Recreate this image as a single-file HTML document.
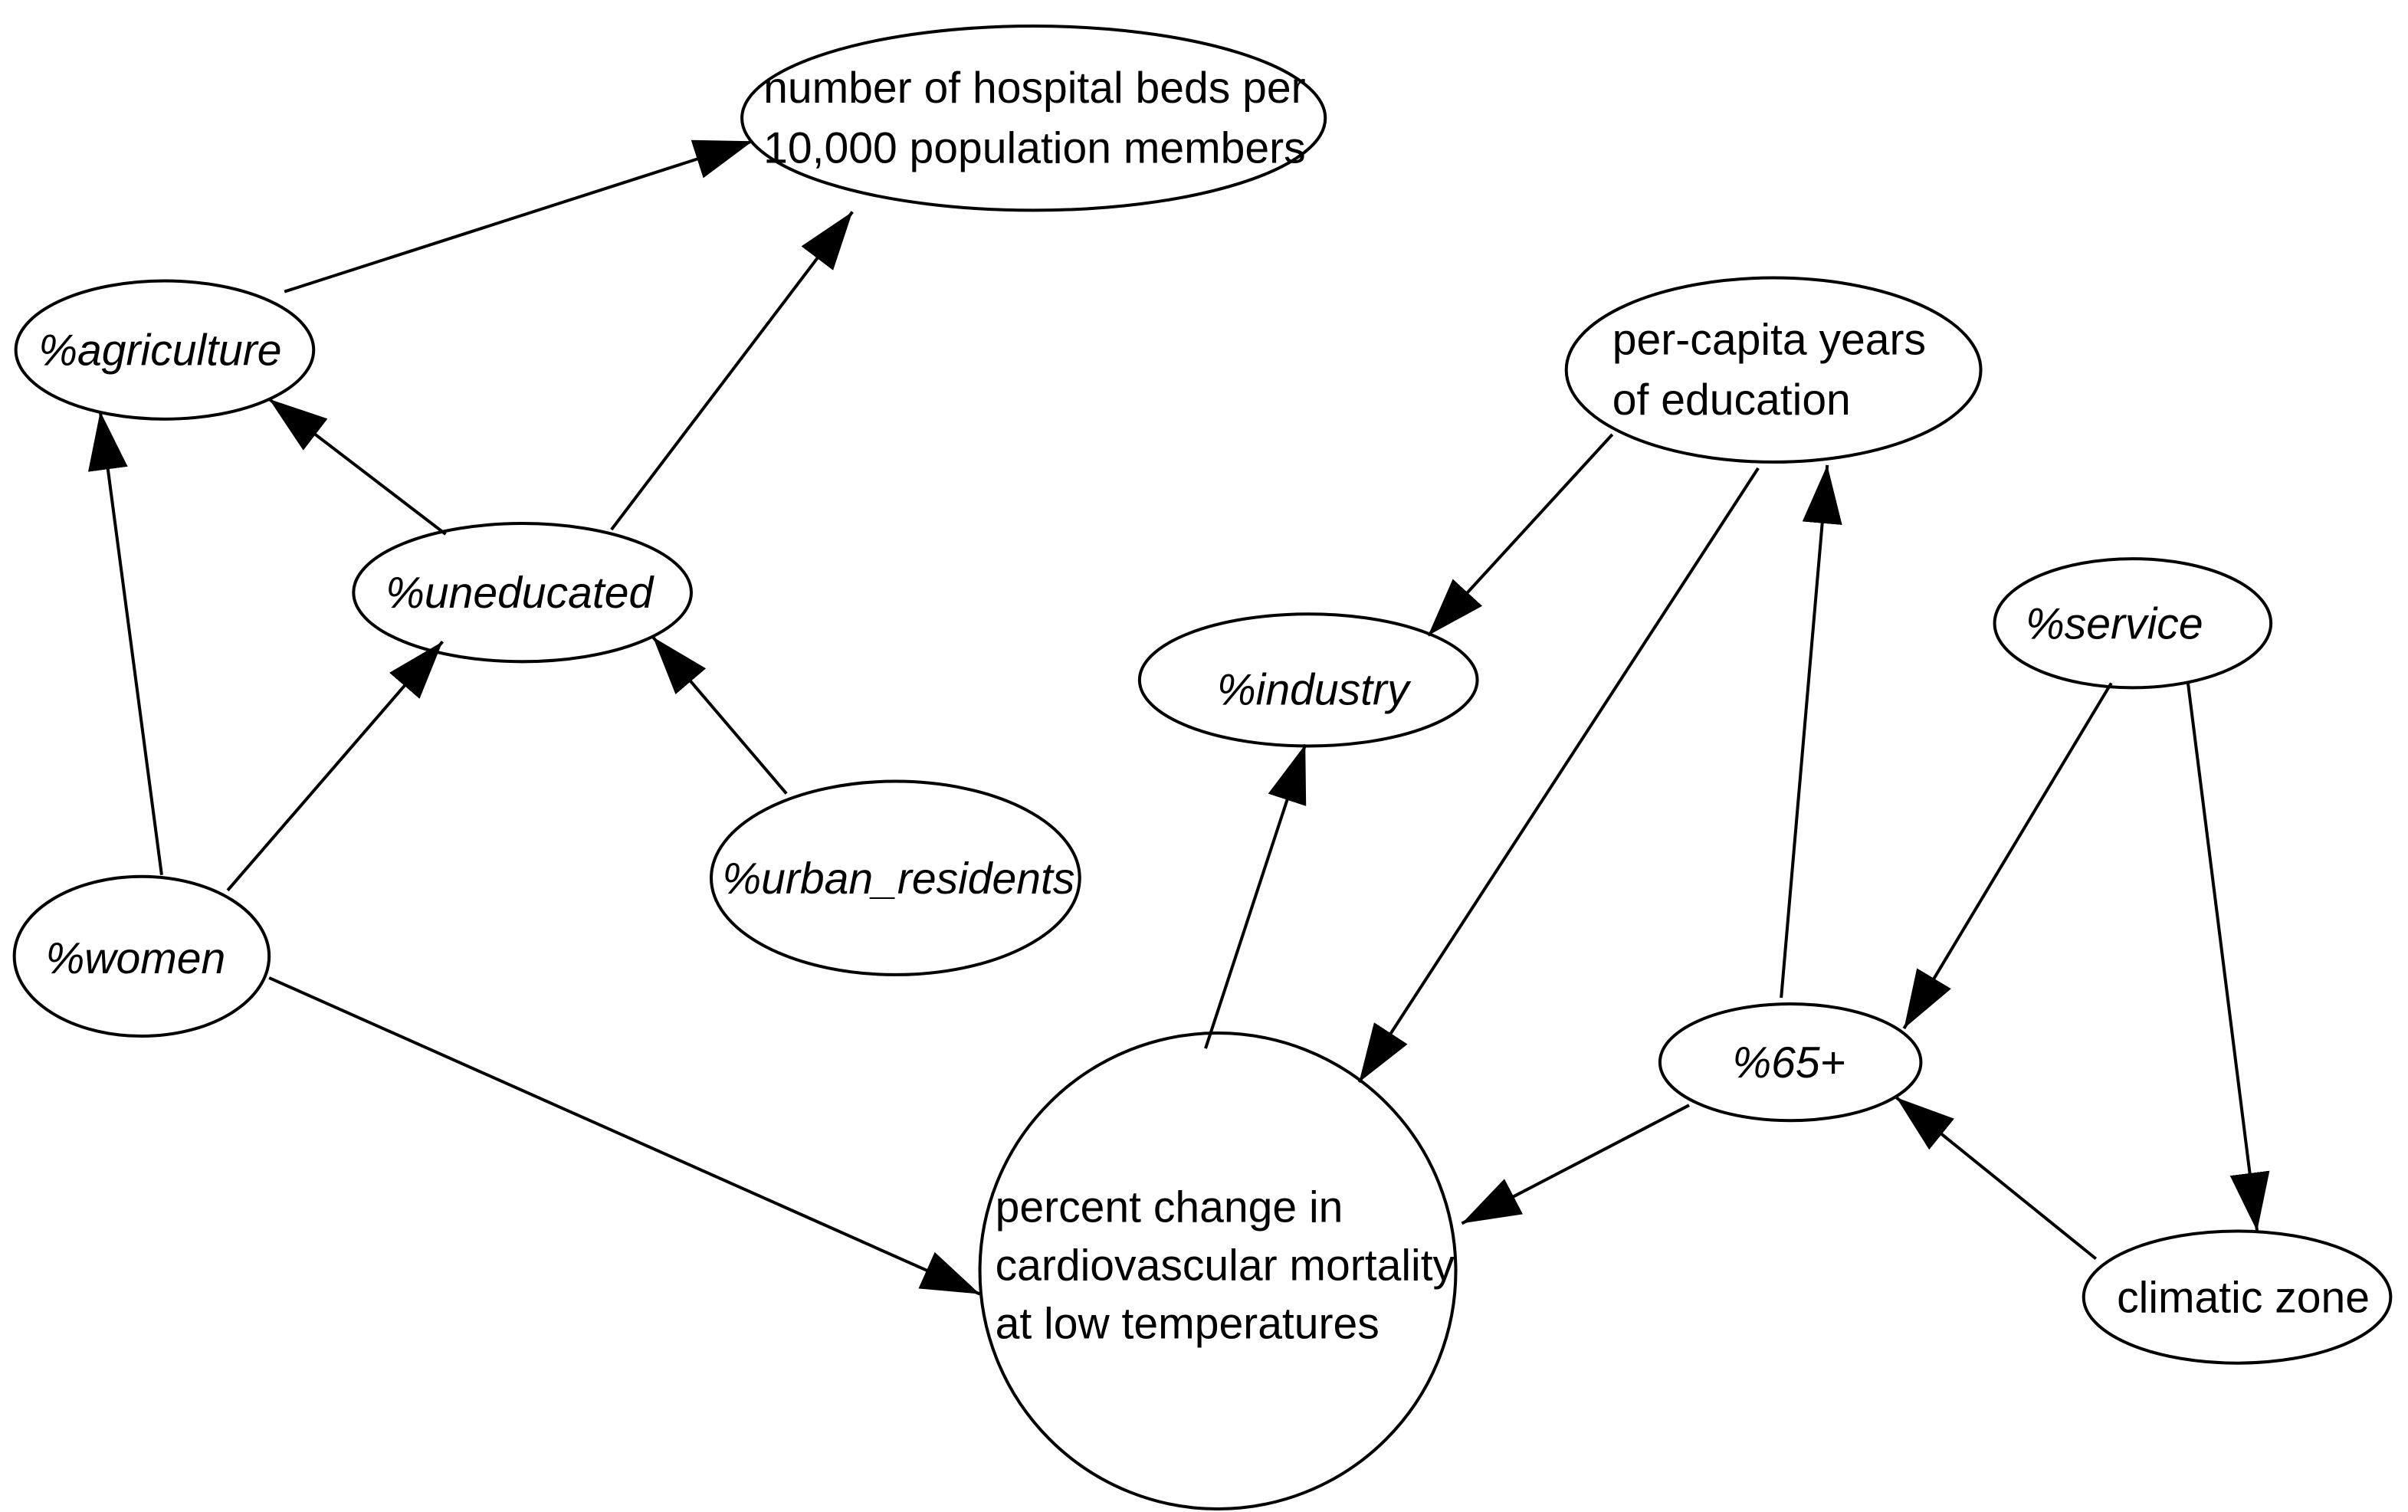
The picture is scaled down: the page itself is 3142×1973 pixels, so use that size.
<!DOCTYPE html>
<html><head><meta charset="utf-8"><style>
html,body{margin:0;padding:0;background:#fff;}
svg{display:block;}
text{font-family:"Liberation Sans",sans-serif;font-size:28.5px;fill:#000;}
.i{font-style:italic;}
</style></head><body>
<svg width="3142" height="1973" viewBox="0 0 1568 985" xmlns="http://www.w3.org/2000/svg">
<defs>
<marker id="a" markerUnits="userSpaceOnUse" markerWidth="40" markerHeight="30" refX="38" refY="13" orient="auto">
<path d="M0,0 L38,13 L0,26 Z" fill="#000"/>
</marker>
</defs>
<g fill="none" stroke="#000" stroke-width="2">
<ellipse cx="673" cy="77" rx="190" ry="60"/>
<ellipse cx="107" cy="228" rx="97" ry="45"/>
<ellipse cx="340" cy="386" rx="110" ry="45"/>
<ellipse cx="583" cy="572" rx="120" ry="63"/>
<ellipse cx="92" cy="623" rx="83" ry="52"/>
<ellipse cx="1155" cy="241" rx="135" ry="60"/>
<ellipse cx="852" cy="443" rx="110" ry="43"/>
<ellipse cx="1389" cy="406" rx="90" ry="42"/>
<ellipse cx="1166" cy="692" rx="85" ry="38"/>
<ellipse cx="1457" cy="845" rx="100" ry="43"/>
<circle cx="793" cy="828" r="155"/>
<g marker-end="url(#a)">
<line x1="185" y1="190" x2="490" y2="92"/>
<line x1="398" y1="345" x2="555" y2="138"/>
<line x1="290" y1="348" x2="175" y2="260"/>
<line x1="105" y1="570" x2="65" y2="268"/>
<line x1="148" y1="580" x2="288" y2="418"/>
<line x1="512" y1="517" x2="425" y2="415"/>
<line x1="175" y1="637" x2="638" y2="843"/>
<line x1="1050" y1="283" x2="930" y2="414"/>
<line x1="1145" y1="305" x2="885" y2="705"/>
<line x1="785" y1="683" x2="850" y2="485"/>
<line x1="1160" y1="650" x2="1190" y2="303"/>
<line x1="1375" y1="445" x2="1240" y2="670"/>
<line x1="1425" y1="445" x2="1470" y2="802"/>
<line x1="1100" y1="720" x2="952" y2="797"/>
<line x1="1365" y1="820" x2="1235" y2="715"/>
</g>
</g>
<text x="497" y="67">number of hospital beds per</text>
<text x="497" y="106">10,000 population members</text>
<text class="i" x="104" y="238" text-anchor="middle">%agriculture</text>
<text class="i" x="338" y="396" text-anchor="middle">%uneducated</text>
<text class="i" x="585" y="582" text-anchor="middle">%urban_residents</text>
<text class="i" x="88" y="634" text-anchor="middle">%women</text>
<text x="1050" y="231">per-capita years</text>
<text x="1050" y="270">of education</text>
<text class="i" x="855" y="459" text-anchor="middle">%industry</text>
<text class="i" x="1377" y="416" text-anchor="middle">%service</text>
<text class="i" x="1165" y="702" text-anchor="middle">%65+</text>
<text x="1461" y="855" text-anchor="middle">climatic zone</text>
<text x="648" y="796">percent change in</text>
<text x="648" y="834">cardiovascular mortality</text>
<text x="648" y="872">at low temperatures</text>
</svg>
</body></html>
